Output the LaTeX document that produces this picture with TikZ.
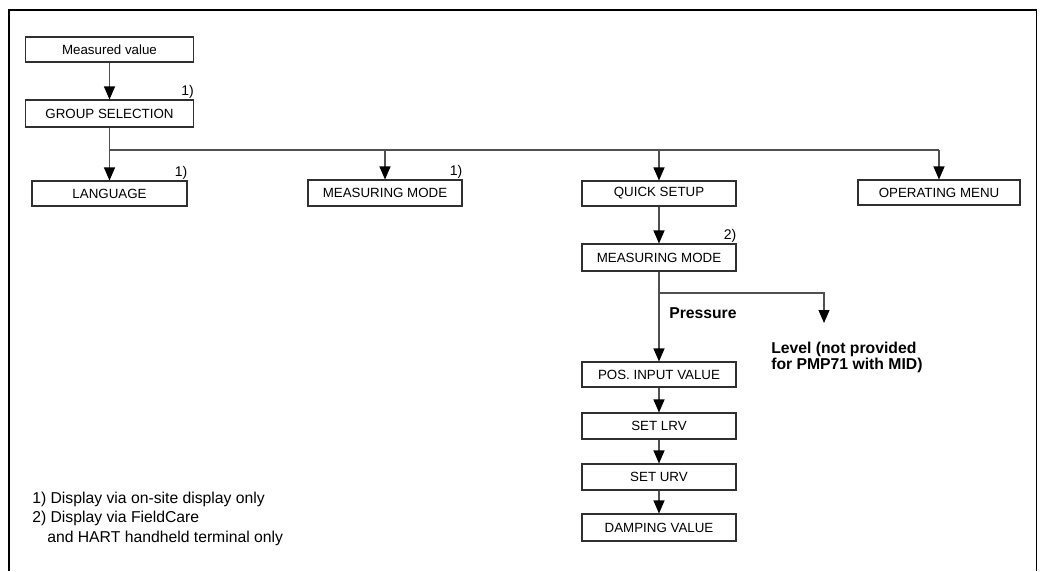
\documentclass[tikz,border=0pt]{standalone}
\usepackage{fontspec}
\setmainfont{Liberation Sans}
\usetikzlibrary{arrows.meta}
\definecolor{conn}{HTML}{505050}
\definecolor{boxline}{HTML}{303030}
\tikzset{
  menubox/.style={draw=boxline, line width=0.8pt, minimum width=115.5pt, minimum height=19.5pt, inner sep=0pt, font=\fontsize{10}{12}\selectfont},
  conline/.style={draw=conn, line width=0.8pt},
  arr/.style={conline, -{Triangle[length=9.75pt,width=8.25pt,fill=black,color=black]}},
  fnote/.style={anchor=base east, inner sep=0pt, font=\fontsize{10.5}{12}\selectfont},
  legend/.style={anchor=base west, inner sep=0pt, font=\fontsize{11.8}{14}\selectfont},
  blabel/.style={anchor=base west, inner sep=0pt, font=\bfseries\fontsize{11.8}{14}\selectfont}
}
\begin{document}
\begin{tikzpicture}[x=0.75pt,y=-0.75pt]
\useasboundingbox (0,0) rectangle (1042,571);
% frame (open at bottom)
\draw[line width=1.2pt,black] (9,571) -- (9,10) -- (1036.5,10) -- (1036.5,571);

% boxes
\node[menubox, minimum width=126pt, minimum height=18.75pt] (mv) at (109.5,49.5) {Measured value};
\node[menubox, minimum width=126pt, minimum height=20.25pt] (gs) at (109.5,113.5) {GROUP SELECTION};
\node[menubox, minimum width=116.25pt, minimum height=18.75pt] (lang) at (109.5,193.5) {LANGUAGE};
\node[menubox, minimum height=19.5pt] (mm1) at (385,193) {MEASURING MODE};
\node[menubox, minimum height=18.75pt] (qs) at (659,193.5) {QUICK SETUP};
\node[menubox, minimum width=121.5pt, minimum height=18.75pt] (om) at (939,192.5) {OPERATING MENU};
\node[menubox, minimum height=20.25pt] (mm2) at (659,257.5) {MEASURING MODE};
\node[menubox, minimum height=18.75pt] (pos) at (659,374.5) {POS. INPUT VALUE};
\node[menubox, minimum height=19.5pt] (lrv) at (659,426) {SET LRV};
\node[menubox, minimum height=19.5pt] (urv) at (659,477) {SET URV};
\node[menubox, minimum height=20.25pt] (damp) at (659,527.5) {DAMPING VALUE};

% footnote markers
\node[fnote] (f1) at ([yshift=3pt]gs.north east) {1)};
\node[fnote] (f2) at ([yshift=3pt]lang.north east) {1)};
\node[fnote] (f3) at ([yshift=3pt]mm1.north east) {1)};
\node[fnote] (f4) at ([yshift=3pt]mm2.north east) {2)};

% connectors
\draw[arr] (mv) -- (gs);
\coordinate (hl) at (109.5,150);
\coordinate (hr) at (939,150);
\draw[conline] (gs.south) -- (hl) -- (hr);
\draw[arr] (hl) -- (lang);
\draw[arr] (mm1.north |- hl) -- (mm1);
\draw[arr] (qs.north |- hl) -- (qs);
\draw[arr] (hr) -- (om);
\draw[arr] (qs) -- (mm2);

\coordinate (br) at (659,293);
\coordinate (brr) at (824,293);
\coordinate (lvl) at (824,323);
\draw[arr] (mm2) -- (pos);
\draw[arr] (br) -- (brr) -- (lvl);
\draw[arr] (pos) -- (lrv);
\draw[arr] (lrv) -- (urv);
\draw[arr] (urv) -- (damp);

% branch labels
\node[blabel] (press) at (669,318) {Pressure};
\node[blabel] (lev1) at (771,353) {Level (not provided};
\node[blabel] (lev2) at (771,369.5) {for PMP71 with MID)};

% legend
\node[legend] (l1) at (32,503) {1) Display via on-site display only};
\node[legend] (l2) at (32,522) {2) Display via FieldCare};
\node[legend] (l3) at (47,542) {and HART handheld terminal only};
\end{tikzpicture}
\end{document}
